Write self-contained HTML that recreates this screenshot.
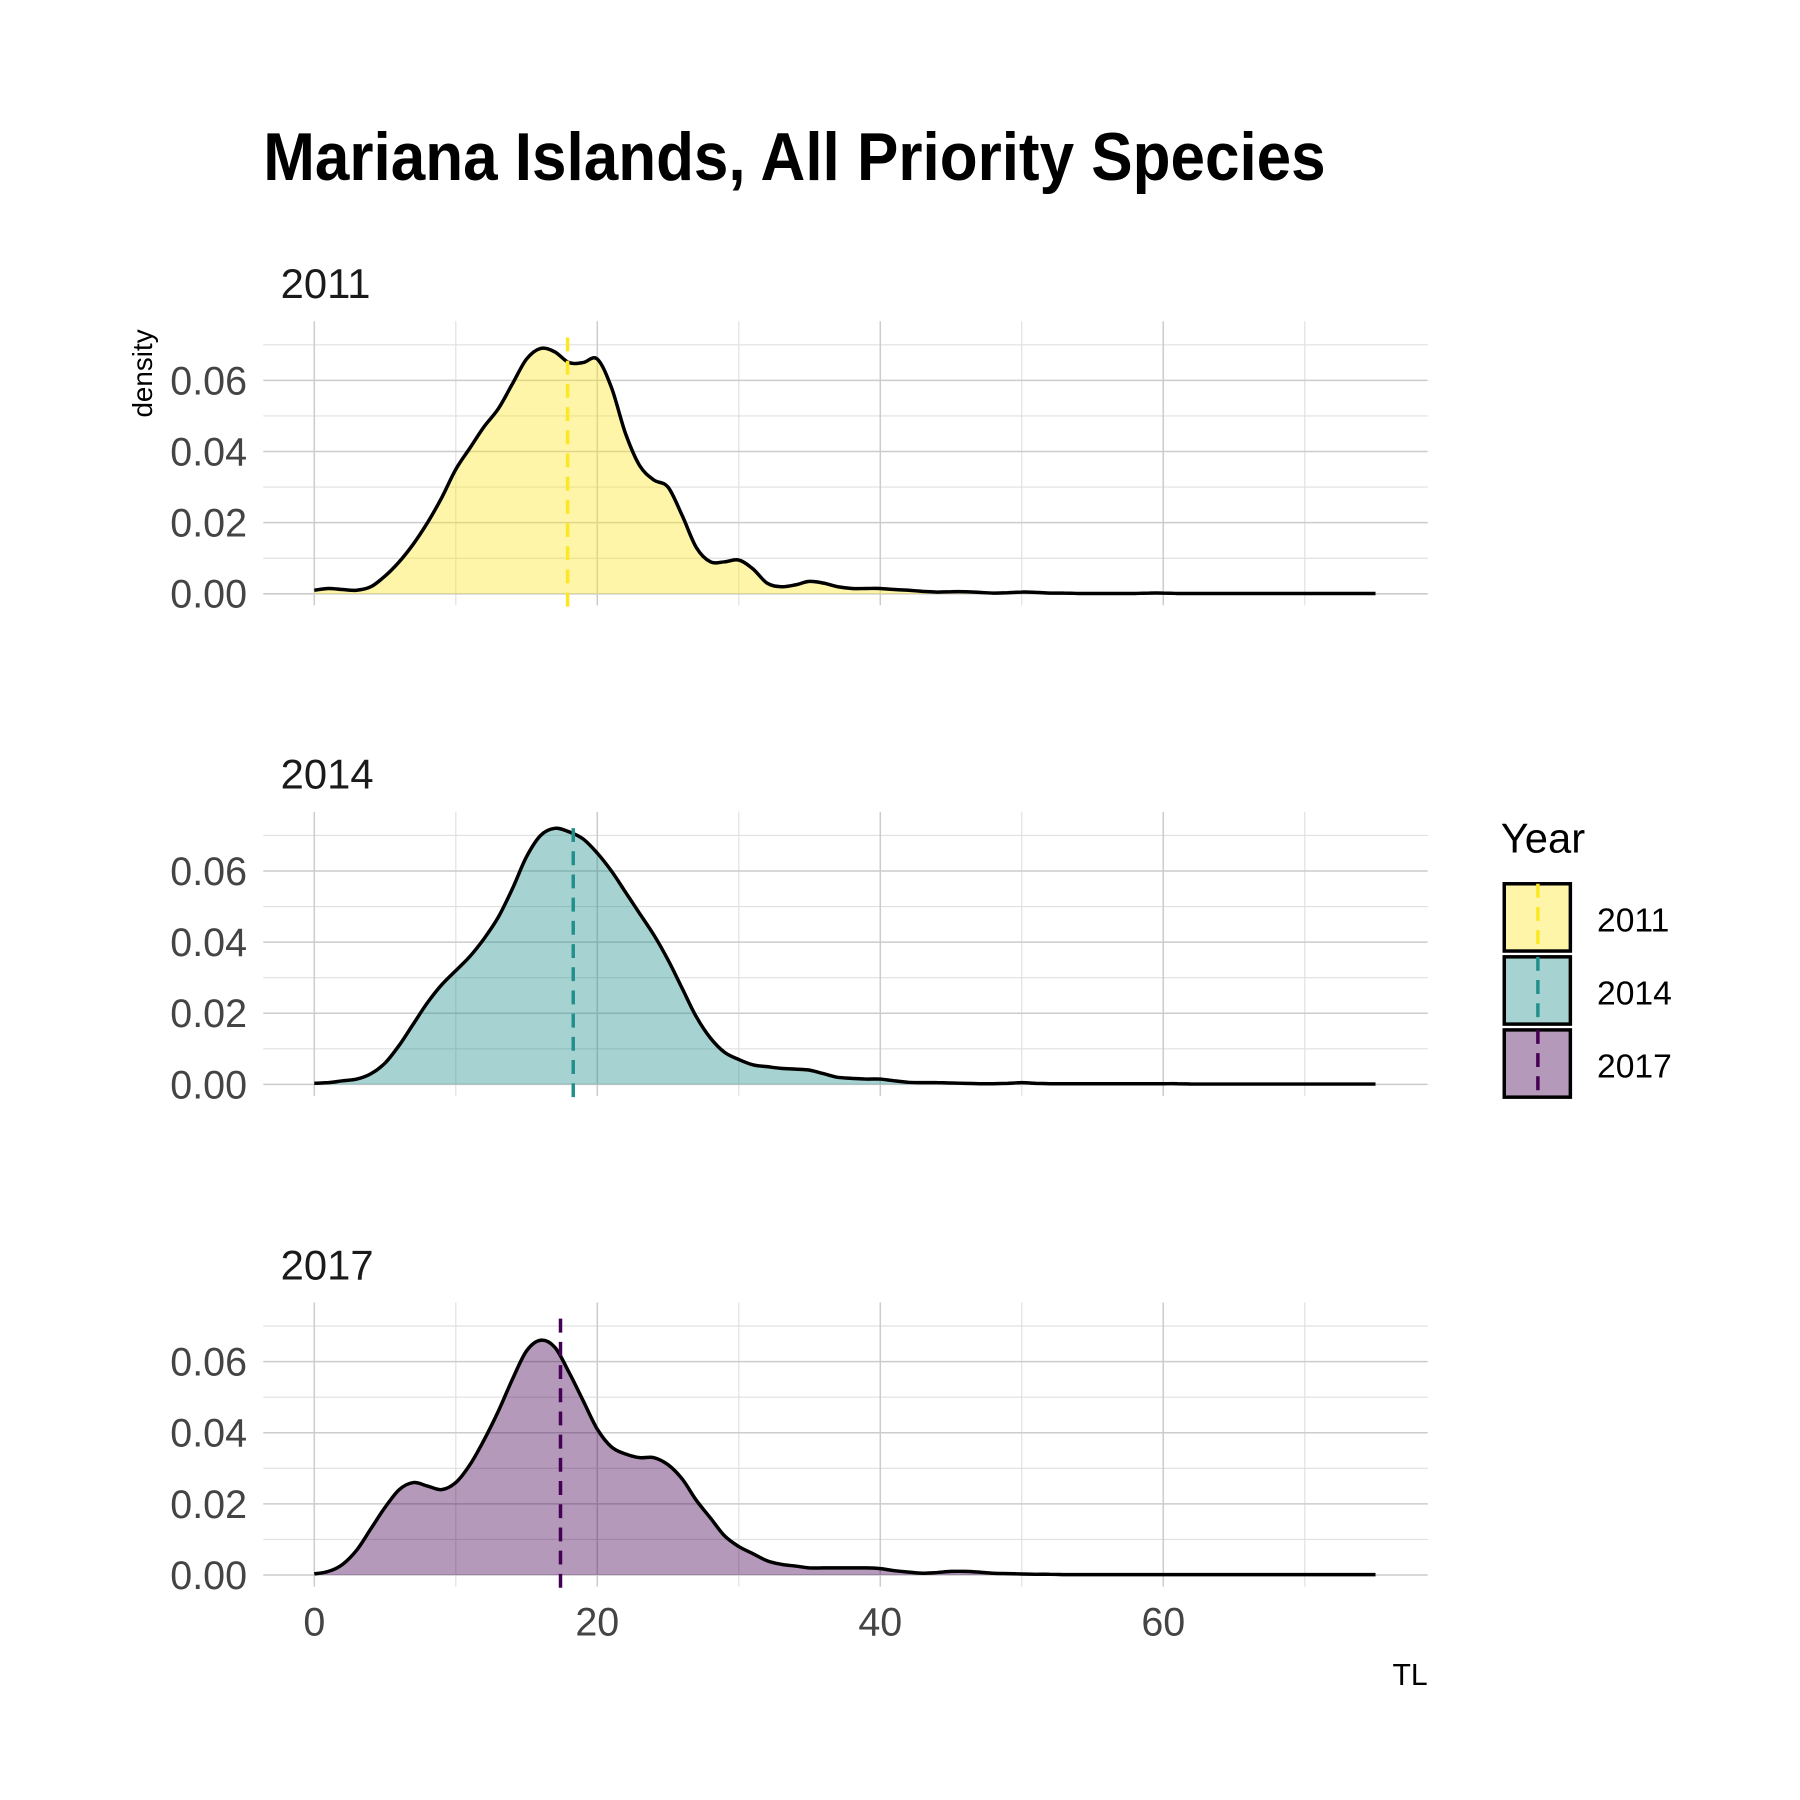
<!DOCTYPE html>
<html><head><meta charset="utf-8">
<style>
html,body{margin:0;padding:0;background:#fff;}
svg{display:block;}
text{font-family:"Liberation Sans Narrow","Liberation Sans",sans-serif;}
</style></head>
<body>
<svg id="chart" width="1800" height="1800" viewBox="0 0 1552 1552" xmlns="http://www.w3.org/2000/svg">
<rect width="1552" height="1552" fill="#fff"/>
<text x="227" y="155" font-size="58" font-weight="bold" fill="#000" textLength="916" lengthAdjust="spacingAndGlyphs">Mariana Islands, All Priority Species</text>
<g id="panels"></g>
<text transform="translate(131,322) rotate(-90)" text-anchor="middle" font-size="24" fill="#000">density</text>
<text x="1231" y="1453" text-anchor="end" font-size="26" fill="#000">TL</text>
<g id="legend"></g>
</svg>
<script>
const years = ["2011","2014","2017"];
const fills = ["#FDE725","#21908C","#440154"];
const means = [17.9, 18.3, 17.4];
const xTicks = [0,20,40,60];
const yTicks = [0,0.02,0.04,0.06];
const d2011 = [0.001,0.0015,0.0012,0.001,0.002,0.005,0.009,0.014,0.020,0.027,
0.035,0.041,0.047,0.052,0.059,0.066,0.069,0.068,0.065,0.065,
0.066,0.058,0.045,0.036,0.032,0.030,0.022,0.013,0.009,0.009,
0.0095,0.007,0.003,0.002,0.0025,0.0035,0.003,0.002,0.0015,0.0015,
0.0015,0.0012,0.001,0.0007,0.0005,0.0006,0.0006,0.0004,0.0002,0.0003,
0.0005,0.0004,0.0002,0.0002,0.0001,0.0001,0.0001,0.0001,0.0001,0.0002,
0.0002,0.0001,0.0001,0.0001,0.0001,0.0001,0.0001,0.0001,0.0001,0.0001,
0.0001,0.0001,0.0001,0.0001,0.0001,0.0001];
const d2014 = [0.0003,0.0005,0.001,0.0015,0.003,0.006,0.011,0.017,0.023,0.028,
0.032,0.036,0.041,0.047,0.055,0.064,0.070,0.072,0.071,0.069,
0.065,0.060,0.054,0.048,0.042,0.035,0.027,0.019,0.013,0.009,
0.007,0.0055,0.005,0.0045,0.0043,0.004,0.003,0.002,0.0017,0.0015,
0.0015,0.001,0.0006,0.0005,0.0005,0.0004,0.0003,0.0002,0.0002,0.0003,
0.0005,0.0003,0.0002,0.0002,0.0002,0.0002,0.0002,0.0002,0.0002,0.0002,
0.0002,0.0002,0.0001,0.0001,0.0001,0.0001,0.0001,0.0001,0.0001,0.0001,
0.0001,0.0001,0.0001,0.0001,0.0001,0.0001];
const d2017 = [0.0003,0.001,0.003,0.007,0.013,0.019,0.024,0.026,0.025,0.024,
0.026,0.031,0.038,0.046,0.055,0.063,0.066,0.064,0.057,0.049,
0.041,0.036,0.034,0.033,0.033,0.031,0.027,0.021,0.016,0.011,
0.008,0.006,0.004,0.003,0.0025,0.002,0.002,0.002,0.002,0.002,
0.0018,0.0012,0.0008,0.0005,0.0007,0.001,0.001,0.0008,0.0005,0.0004,
0.0003,0.0002,0.0002,0.0001,0.0001,0.0001,0.0001,0.0001,0.0001,0.0001,
0.0001,0.0001,0.0001,0.0001,0.0001,0.0001,0.0001,0.0001,0.0001,0.0001,
0.0001,0.0001,0.0001,0.0001,0.0001,0.0001];
const series = [d2011, d2014, d2017];

const NS = "http://www.w3.org/2000/svg";
const X0 = 271, PXU = 12.2, PXD = 3067;
const panelBase = [512, 935, 1358];
const xs = v => X0 + v * PXU;
function mk(tag, attrs, parent){ const e=document.createElementNS(NS,tag); for(const k in attrs) e.setAttribute(k,attrs[k]); parent.appendChild(e); return e; }
const panels = document.getElementById("panels");

series.forEach((d, p) => {
  const base = panelBase[p];
  const ys = v => base - v * PXD;
  const g = mk("g", {}, panels);
  
  
  // grid
  for (let v = 10; v <= 70; v += 20) {
    const l = mk("line", {x1:xs(v),x2:xs(v),y1:base-235,y2:base+10,stroke:"#e0e0e0","stroke-width":1}, g);
    
    
  }
  for (let v = 0.01; v <= 0.071; v += 0.02) {
    const l = mk("line", {x1:227,x2:1231,y1:ys(v),y2:ys(v),stroke:"#e0e0e0","stroke-width":1}, g);
    
    
  }
  xTicks.forEach(v => {
    const l = mk("line", {x1:xs(v),x2:xs(v),y1:base-235,y2:base+10,stroke:"#cccccc","stroke-width":1.3}, g);
    
    
  });
  yTicks.forEach(v => {
    const l = mk("line", {x1:227,x2:1231,y1:ys(v),y2:ys(v),stroke:"#cccccc","stroke-width":1.3}, g);
    
    
    const t = mk("text", {x:213,y:ys(v)+12,"text-anchor":"end","font-size":34,fill:"#444"}, g);
    t.textContent = v.toFixed(2);
    
    
  });
  // strip title
  const st = mk("text", {x:242,y:base-255,"font-size":36,fill:"#1a1a1a"}, g);
  st.textContent = years[p];
  
  
  // density curve (catmull-rom)
  const pts = d.map((v,i) => [xs(i), ys(v)]);
  let path = "M" + pts[0][0] + "," + pts[0][1];
  for (let i = 0; i < pts.length - 1; i++) {
    const p0 = pts[Math.max(0,i-1)], p1 = pts[i], p2 = pts[i+1], p3 = pts[Math.min(pts.length-1,i+2)];
    const c1 = [p1[0]+(p2[0]-p0[0])/6, p1[1]+(p2[1]-p0[1])/6];
    const c2 = [p2[0]-(p3[0]-p1[0])/6, p2[1]-(p3[1]-p1[1])/6];
    path += " C" + c1[0].toFixed(1)+","+c1[1].toFixed(1)+" "+c2[0].toFixed(1)+","+c2[1].toFixed(1)+" "+p2[0].toFixed(1)+","+p2[1].toFixed(1);
  }
  const area = mk("path", {d: path + " L" + xs(d.length-1) + "," + base + " L" + xs(0) + "," + base + " Z", fill: fills[p], "fill-opacity": 0.4, stroke: "none"}, g);
  
  
  const line = mk("path", {d: path, fill: "none", stroke: "#000", "stroke-width": 3}, g);
  
  
  const ml = mk("line", {x1:xs(means[p]),x2:xs(means[p]),y1:base-221,y2:base+11,stroke:fills[p],"stroke-width":3,"stroke-dasharray":"12,8"}, g);
  
  
});
// x tick labels
xTicks.forEach(v => {
  const t = mk("text", {x:xs(v),y:1410,"text-anchor":"middle","font-size":34,fill:"#444"}, panels);
  t.textContent = v;
  
  
});
// legend
const lg = document.getElementById("legend");
const lt = mk("text", {x:1294,y:735,"font-size":36,fill:"#000"}, lg);
lt.textContent = "Year";


years.forEach((y, i) => {
  const top = 762 + i * 63;
  const g = mk("g", {}, lg);
  
  
  mk("rect", {x:1297,y:top,width:57,height:58,fill:"#fff"}, g);
  mk("rect", {x:1297,y:top,width:57,height:58,fill:fills[i],"fill-opacity":0.4,stroke:"#000","stroke-width":3}, g);
  mk("line", {x1:1326,x2:1326,y1:top,y2:top+58,stroke:fills[i],"stroke-width":3,"stroke-dasharray":"12,8"}, g);
  const t = mk("text", {x:1377,y:top+41,"font-size":29,fill:"#000"}, g);
  t.textContent = y;
});
</script>
</body></html>
